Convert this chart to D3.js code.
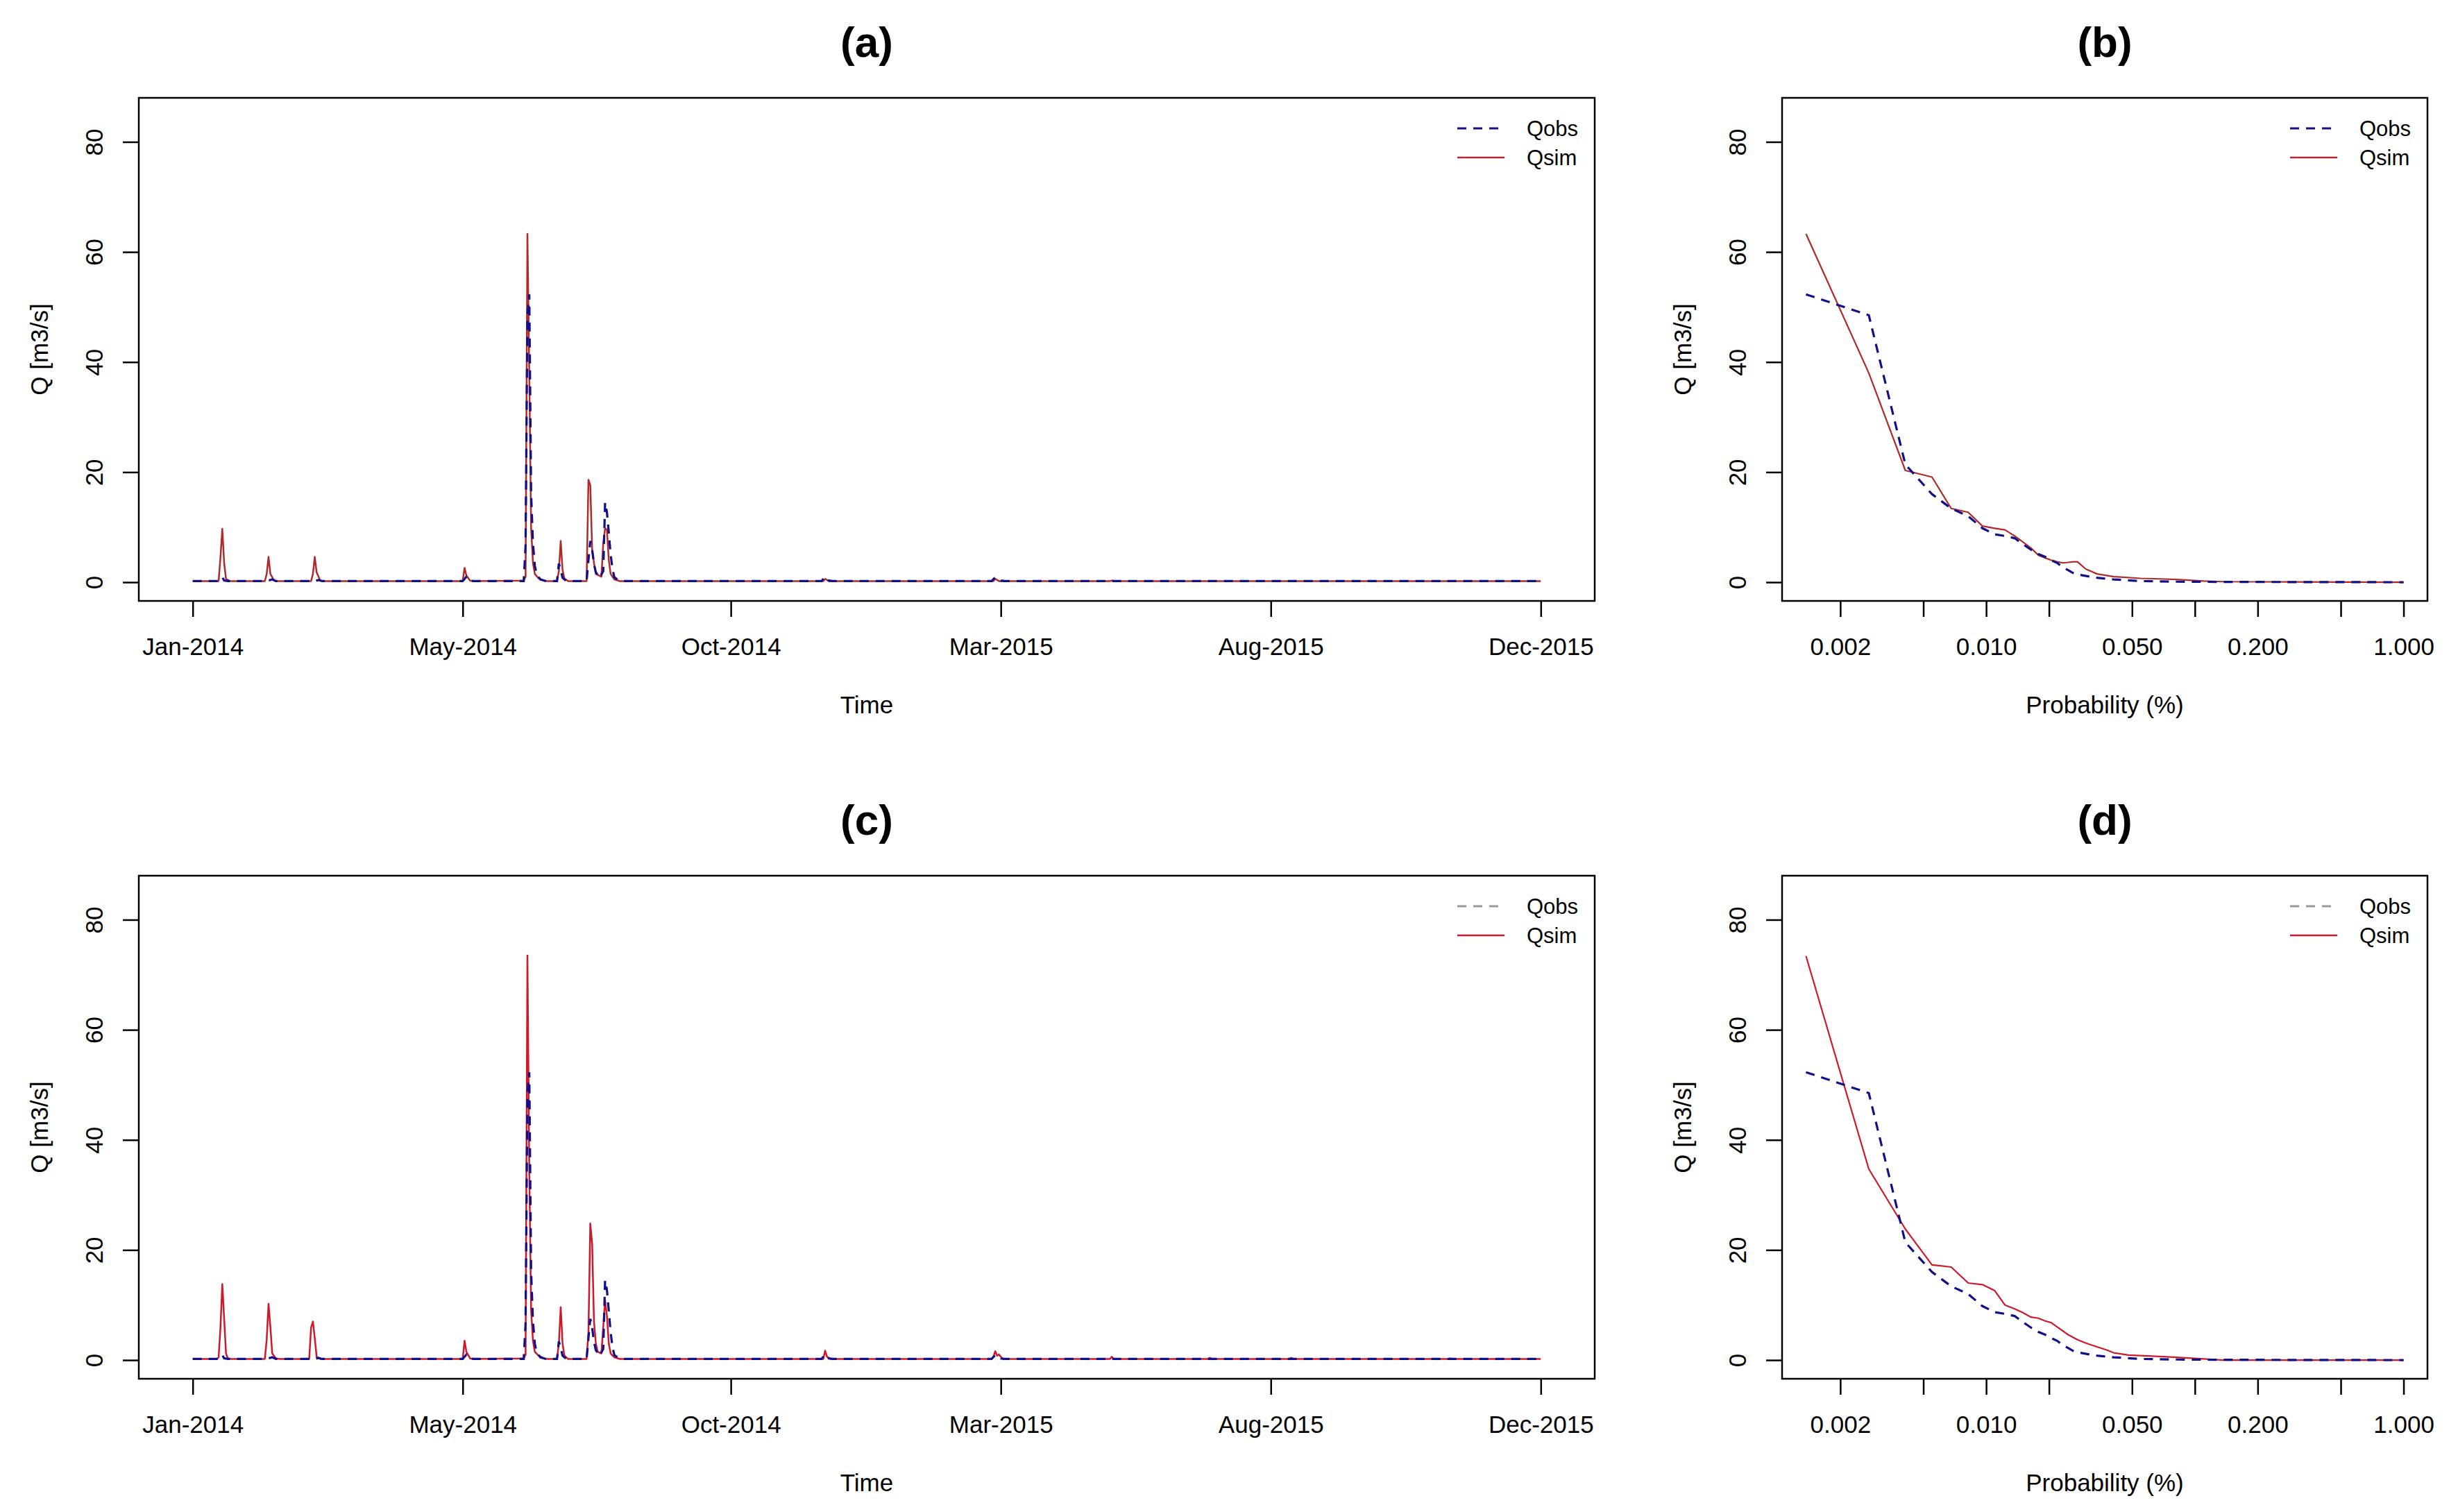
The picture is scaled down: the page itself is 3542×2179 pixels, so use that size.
<!DOCTYPE html>
<html>
<head>
<meta charset="utf-8">
<script src="https://cdn.jsdelivr.net/npm/d3@7"></script>
<style>
  body { margin: 0; background: #fff; }
  text { font-family: "Liberation Sans", Arial, Helvetica, sans-serif; fill: #000; }
</style>
</head>
<body>
<svg id="chart" width="3542" height="2179"></svg>
<script>
// ---- data ----

// observed daily flow (m3/s), only the days where something happens
const obsSeries = [
  ["2014-01-01",0.2],
  ["2014-01-15",0.2],["2014-01-16",0.6],["2014-01-17",0.9],["2014-01-18",0.3],["2014-01-20",0.2],
  ["2014-02-10",0.2],["2014-02-13",0.5],["2014-02-15",0.2],
  ["2014-03-08",0.2],["2014-03-10",0.4],["2014-03-12",0.2],
  ["2014-05-27",0.2],["2014-05-29",1.0],["2014-05-31",0.3],["2014-06-02",0.2],
  ["2014-06-29",0.2],["2014-06-30",6.6],["2014-07-01",48.5],["2014-07-02",52.3],["2014-07-03",16.0],
  ["2014-07-04",7.0],["2014-07-05",3.0],["2014-07-06",1.4],["2014-07-08",0.5],["2014-07-11",0.2],
  ["2014-07-17",0.2],["2014-07-18",3.4],["2014-07-19",2.2],["2014-07-20",0.8],["2014-07-22",0.2],
  ["2014-08-02",0.2],["2014-08-03",4.0],["2014-08-04",7.5],["2014-08-05",5.9],["2014-08-06",3.3],
  ["2014-08-07",1.8],["2014-08-09",0.8],["2014-08-11",2.0],["2014-08-12",14.5],["2014-08-13",12.7],
  ["2014-08-14",9.0],["2014-08-15",5.0],["2014-08-16",2.4],["2014-08-17",0.9],["2014-08-19",0.4],["2014-08-22",0.2],
  ["2014-12-07",0.2],["2014-12-09",1.0],["2014-12-11",0.3],["2014-12-13",0.2],
  ["2015-03-09",0.2],["2015-03-11",0.9],["2015-03-13",0.6],["2015-03-14",0.3],["2015-03-16",0.2],
  ["2015-05-12",0.2],["2015-05-13",0.3],["2015-05-14",0.2],
  ["2015-12-31",0.2]
];

// simulated flow, run (a)
const simSeriesA = [
  ["2014-01-01",0.2],
  ["2014-01-15",0.2],["2014-01-16",4.5],["2014-01-17",9.7],["2014-01-18",3.5],["2014-01-19",0.6],["2014-01-21",0.2],
  ["2014-02-09",0.2],["2014-02-10",1.5],["2014-02-11",4.6],["2014-02-12",1.5],["2014-02-14",0.3],["2014-02-16",0.2],
  ["2014-03-06",0.2],["2014-03-07",1.5],["2014-03-08",4.6],["2014-03-09",1.8],["2014-03-11",0.3],["2014-03-13",0.2],
  ["2014-05-27",0.2],["2014-05-28",2.6],["2014-05-29",1.2],["2014-05-31",0.3],["2014-06-02",0.2],
  ["2014-06-29",0.3],["2014-06-30",1.0],["2014-07-01",63.3],["2014-07-02",38.0],["2014-07-03",9.8],
  ["2014-07-04",3.5],["2014-07-05",1.5],["2014-07-07",0.7],["2014-07-10",0.3],["2014-07-12",0.2],
  ["2014-07-17",0.2],["2014-07-18",2.0],["2014-07-19",7.5],["2014-07-20",2.2],["2014-07-21",0.7],["2014-07-23",0.2],
  ["2014-08-02",0.2],["2014-08-03",18.6],["2014-08-04",17.6],["2014-08-05",6.0],["2014-08-06",3.5],
  ["2014-08-07",1.5],["2014-08-10",1.0],["2014-08-11",7.0],["2014-08-12",9.8],["2014-08-13",9.5],
  ["2014-08-14",4.0],["2014-08-15",1.5],["2014-08-17",0.5],["2014-08-20",0.2],
  ["2014-12-08",0.2],["2014-12-09",0.6],["2014-12-11",0.2],
  ["2015-03-10",0.2],["2015-03-11",0.6],["2015-03-13",0.2],
  ["2015-05-12",0.2],["2015-05-13",0.3],["2015-05-14",0.2],
  ["2015-12-31",0.2]
];

// simulated flow, run (c)
const simSeriesC = [
  ["2014-01-01",0.2],
  ["2014-01-14",0.2],["2014-01-15",0.5],["2014-01-16",5.9],["2014-01-17",13.8],["2014-01-18",7.5],["2014-01-19",1.2],["2014-01-20",0.3],["2014-01-22",0.2],
  ["2014-02-09",0.2],["2014-02-10",3.7],["2014-02-11",10.2],["2014-02-12",6.0],["2014-02-13",1.2],["2014-02-15",0.3],["2014-02-17",0.2],
  ["2014-03-05",0.2],["2014-03-06",5.9],["2014-03-07",7.0],["2014-03-08",4.0],["2014-03-09",0.6],["2014-03-11",0.2],
  ["2014-05-27",0.2],["2014-05-28",3.5],["2014-05-29",1.5],["2014-05-31",0.3],["2014-06-02",0.2],
  ["2014-06-29",0.3],["2014-06-30",1.0],["2014-07-01",73.5],["2014-07-02",34.7],["2014-07-03",9.0],
  ["2014-07-04",3.5],["2014-07-05",1.5],["2014-07-07",0.8],["2014-07-10",0.3],["2014-07-12",0.2],
  ["2014-07-17",0.2],["2014-07-18",3.0],["2014-07-19",9.6],["2014-07-20",3.0],["2014-07-21",0.8],["2014-07-23",0.2],
  ["2014-08-02",0.2],["2014-08-03",5.0],["2014-08-04",24.8],["2014-08-05",21.1],["2014-08-06",7.0],
  ["2014-08-07",3.0],["2014-08-08",1.5],["2014-08-10",1.2],["2014-08-11",6.0],["2014-08-12",10.9],
  ["2014-08-13",8.0],["2014-08-14",3.0],["2014-08-15",1.2],["2014-08-17",0.5],["2014-08-20",0.2],
  ["2014-12-08",0.2],["2014-12-09",1.7],["2014-12-10",0.6],["2014-12-12",0.2],
  ["2015-03-09",0.2],["2015-03-10",0.6],["2015-03-11",1.6],["2015-03-12",0.8],["2015-03-13",1.0],["2015-03-15",0.2],
  ["2015-05-12",0.2],["2015-05-13",0.6],["2015-05-14",0.2],
  ["2015-07-04",0.2],["2015-07-05",0.4],["2015-07-06",0.2],
  ["2015-08-17",0.2],["2015-08-18",0.4],["2015-08-19",0.2],
  ["2015-11-11",0.2],["2015-11-12",0.3],["2015-11-13",0.2],
  ["2015-12-31",0.2]
];

// flow duration curves: exceedance probability and flow
const fdcObs = [
  [0.00137,52.3],[0.00274,48.5],[0.0041,21.4],[0.0055,16.0],[0.0068,13.4],[0.0082,12.0],
  [0.0096,9.8],[0.011,8.7],[0.0123,8.4],[0.0137,8.0],[0.015,6.9],[0.0164,5.9],[0.0178,5.1],
  [0.0192,4.6],[0.0205,4.0],[0.0219,3.5],[0.0233,2.7],[0.0247,2.2],[0.026,1.7],[0.0274,1.4],
  [0.034,0.8],[0.041,0.5],[0.055,0.2],[0.068,0.15],[0.082,0.1],[0.137,0.05],[1.0,0.0]
];
const fdcSimB = [
  [0.00137,63.3],[0.00274,38.0],[0.0041,20.3],[0.0055,19.1],[0.0068,13.4],[0.0082,12.7],
  [0.0096,10.2],[0.011,9.8],[0.0123,9.5],[0.0137,8.4],[0.015,7.3],[0.0164,6.2],[0.0178,4.9],
  [0.0192,4.4],[0.0205,4.0],[0.0219,3.7],[0.0233,3.5],[0.0247,3.6],[0.026,3.7],[0.0274,3.7],
  [0.030,2.4],[0.034,1.5],[0.041,1.0],[0.055,0.7],[0.068,0.6],[0.082,0.5],[0.11,0.2],[0.137,0.1],[1.0,0.0]
];
const fdcSimD = [
  [0.00137,73.4],[0.00274,34.7],[0.0041,23.8],[0.0055,17.3],[0.0068,16.9],[0.0082,14.0],
  [0.0096,13.7],[0.011,12.6],[0.0123,10.0],[0.0137,9.3],[0.015,8.6],[0.0164,7.8],[0.0178,7.6],
  [0.0192,7.1],[0.0205,6.8],[0.0219,6.0],[0.0233,5.3],[0.0247,4.6],[0.0274,3.7],[0.030,3.1],
  [0.034,2.4],[0.038,1.8],[0.041,1.3],[0.048,0.9],[0.055,0.8],[0.068,0.65],[0.082,0.5],[0.11,0.2],[0.137,0.0],[1.0,0.0]
];

// axis ticks and labels
const qTicks = [0, 20, 40, 60, 80];
const timeTicks = ["2014-01-01","2014-05-27","2014-10-19","2015-03-14","2015-08-07","2015-12-31"];
const probTicks = [0.002, 0.005, 0.01, 0.02, 0.05, 0.1, 0.2, 0.5, 1];
const probLabels = ["0.002","","0.010","","0.050","","0.200","","1.000"];
const panelTitles = ["(a)", "(b)", "(c)", "(d)"];
const seriesNames = ["Qobs", "Qsim"];

// ---- layout ----
const svg = d3.select("#chart");
const parse = d3.utcParse("%Y-%m-%d");
const fmtMonth = d3.utcFormat("%b-%Y");

const OBS_COL = "#10108a";
const SIM_COL_1 = "#b02a2a";
const SIM_COL_2 = "#d0182a";
const TICK_FONT = 35, LEG_FONT = 31, TITLE_FONT = 62;

const qDomain = [-3.4, 88];   // R's 4% padding round 0..84.6

function box(g, w, h) {
  g.append("rect")
    .attr("width", w).attr("height", h)
    .attr("fill", "none").attr("stroke", "#000").attr("stroke-width", 2.5);
}

function yAxis(g, y, h) {
  const ax = g.append("g")
    .call(d3.axisLeft(y).tickValues(qTicks).tickSize(23).tickSizeOuter(0));
  ax.select(".domain").remove();
  ax.selectAll("line").attr("stroke-width", 2.5);
  ax.selectAll("text")
    .attr("x", 0).attr("dy", "0.35em")
    .attr("transform", "translate(-64,0) rotate(-90)")
    .attr("text-anchor", "middle")
    .style("font-size", TICK_FONT + "px");
  g.append("text")
    .attr("transform", `translate(-143,${h / 2}) rotate(-90)`)
    .attr("text-anchor", "middle").attr("dy", "0.35em")
    .style("font-size", TICK_FONT + "px")
    .text("Q [m3/s]");
}

function legend(g, w, obsLegCol, simCol) {
  const cols = [obsLegCol, simCol];
  seriesNames.forEach((name, i) => {
    const yy = 44 + i * 42;
    g.append("line")
      .attr("x1", w - 198).attr("x2", w - 130)
      .attr("y1", yy).attr("y2", yy)
      .attr("stroke", cols[i]).attr("stroke-width", i === 0 ? 3 : 2.5)
      .attr("stroke-dasharray", i === 0 ? "13,10" : null);
    g.append("text")
      .attr("x", w - 98).attr("y", yy).attr("dy", "0.35em")
      .style("font-size", LEG_FONT + "px")
      .text(name);
  });
}

function title(g, w, txt) {
  g.append("text")
    .attr("x", w / 2).attr("y", -59)
    .attr("text-anchor", "middle")
    .style("font-size", TITLE_FONT + "px").style("font-weight", "bold")
    .text(txt);
}

function drawTimePanel(left, top, w, h, sim, simCol, obsLegCol, txt) {
  const g = svg.append("g").attr("transform", `translate(${left},${top})`);
  const t0 = parse(obsSeries[0][0]), t1 = parse(obsSeries[obsSeries.length - 1][0]);
  const pad = (t1 - t0) * 0.04;
  const x = d3.scaleUtc().domain([new Date(+t0 - pad), new Date(+t1 + pad)]).range([0, w]);
  const y = d3.scaleLinear().domain(qDomain).range([h, 0]);

  const line = d3.line().x(d => x(parse(d[0]))).y(d => y(d[1]));
  g.append("path").datum(sim)
    .attr("d", line).attr("fill", "none")
    .attr("stroke", simCol).attr("stroke-width", 2.5).attr("stroke-linejoin", "round");
  g.append("path").datum(obsSeries)
    .attr("d", line).attr("fill", "none")
    .attr("stroke", OBS_COL).attr("stroke-width", 3.2)
    .attr("stroke-dasharray", "13,10");

  const xa = g.append("g").attr("transform", `translate(0,${h})`)
    .call(d3.axisBottom(x).tickValues(timeTicks.map(parse))
      .tickFormat(fmtMonth).tickSize(23).tickPadding(30));
  xa.select(".domain").remove();
  xa.selectAll("line").attr("stroke-width", 2.5);
  xa.selectAll("text").style("font-size", TICK_FONT + "px");
  g.append("text")
    .attr("x", w / 2).attr("y", h + 150).attr("dy", "0.35em")
    .attr("text-anchor", "middle").style("font-size", TICK_FONT + "px")
    .text("Time");

  yAxis(g, y, h);
  box(g, w, h);
  legend(g, w, obsLegCol, simCol);
  title(g, w, txt);
}

function drawFdcPanel(left, top, w, h, sim, simCol, obsLegCol, txt) {
  const g = svg.append("g").attr("transform", `translate(${left},${top})`);
  const lo = Math.log10(fdcObs[0][0]), hi = Math.log10(fdcObs[fdcObs.length - 1][0]);
  const pad = (hi - lo) * 0.04;
  const x = d3.scaleLog().domain([10 ** (lo - pad), 10 ** (hi + pad)]).range([0, w]);
  const y = d3.scaleLinear().domain(qDomain).range([h, 0]);

  const line = d3.line().x(d => x(d[0])).y(d => y(d[1]));
  g.append("path").datum(sim)
    .attr("d", line).attr("fill", "none")
    .attr("stroke", simCol).attr("stroke-width", 2.2).attr("stroke-linejoin", "round");
  g.append("path").datum(fdcObs)
    .attr("d", line).attr("fill", "none")
    .attr("stroke", OBS_COL).attr("stroke-width", 3.2)
    .attr("stroke-dasharray", "13,10");

  const xa = g.append("g").attr("transform", `translate(0,${h})`)
    .call(d3.axisBottom(x).tickValues(probTicks)
      .tickFormat((d, i) => probLabels[i]).tickSize(23).tickPadding(30));
  xa.select(".domain").remove();
  xa.selectAll("line").attr("stroke-width", 2.5);
  xa.selectAll("text").style("font-size", TICK_FONT + "px");
  g.append("text")
    .attr("x", w / 2).attr("y", h + 150).attr("dy", "0.35em")
    .attr("text-anchor", "middle").style("font-size", TICK_FONT + "px")
    .text("Probability (%)");

  yAxis(g, y, h);
  box(g, w, h);
  legend(g, w, obsLegCol, simCol);
  title(g, w, txt);
}

// top row
drawTimePanel(200, 141, 2098, 725, simSeriesA, SIM_COL_1, OBS_COL, panelTitles[0]);
drawFdcPanel(2568, 141, 930, 725, fdcSimB, SIM_COL_1, OBS_COL, panelTitles[1]);
// bottom row
drawTimePanel(200, 1262, 2098, 725, simSeriesC, SIM_COL_2, "#9a9a9a", panelTitles[2]);
drawFdcPanel(2568, 1262, 930, 725, fdcSimD, SIM_COL_2, "#9a9a9a", panelTitles[3]);
</script>
</body>
</html>
